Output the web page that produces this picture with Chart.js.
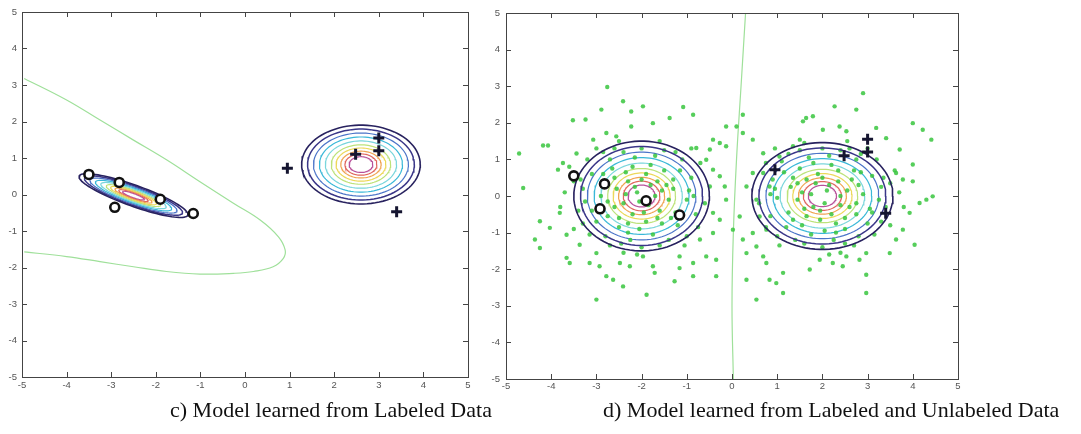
<!DOCTYPE html>
<html>
<head>
<meta charset="utf-8">
<script src="https://cdn.jsdelivr.net/npm/chart.js@4/dist/chart.umd.min.js"></script>
<style>
  body { margin: 0; background: #fff; width: 1081px; height: 434px; overflow: hidden; position: relative; }
  canvas { position: absolute; top: 0; }
  .cap { position: absolute; top: 399px; font-family: 'Liberation Serif', serif; font-size: 22px; line-height: 22px; color: #111; white-space: nowrap; }
</style>
</head>
<body>
<canvas id="chartC" width="480" height="400" style="left:0"></canvas>
<canvas id="chartD" width="601" height="400" style="left:480px"></canvas>
<div class="cap" style="left:170px">c) Model learned from Labeled Data</div>
<div class="cap" style="left:603px">d) Model learned from Labeled and Unlabeled Data</div>
<script>
// labeled points, same in both panels
const circlePoints = [[-3.5, 0.55], [-2.82, 0.33], [-2.92, -0.35], [-1.9, -0.13], [-1.16, -0.52]];
const plusPoints = [[0.95, 0.72], [2.48, 1.1], [3.0, 1.55], [3.0, 1.2], [3.4, -0.47]];

// decision boundaries
const boundaryC = [[-4.95, 3.18], [-4.0, 2.59], [-3.25, 2.04], [-2.5, 1.49], [-1.76, 0.95], [-1.01, 0.35],
    [-0.26, -0.24], [0.34, -0.70], [0.75, -1.16], [0.9, -1.52], [0.86, -1.75], [0.63, -1.98], [0.19, -2.11],
    [-0.26, -2.16], [-1.01, -2.18], [-1.76, -2.11], [-2.5, -1.98], [-3.25, -1.84], [-4.0, -1.70], [-4.95, -1.57]];
const boundaryD = [[0.3, 5], [0.2, 3], [0.1, 1], [0.03, -1], [0.0, -3], [0.03, -5]];

// gaussian contour parameters (mean, semi axes of outer contour, rotation in degrees)
const meansC = [[-2.5, -0.03], [2.6, 0.82]];
const axesC = [[1.33, 0.28], [1.33, 1.08]];
const anglesC = [-24, 0];
const meansD = [[-2.0, 0.0], [2.0, 0.0]];
const axesD = [[1.5, 1.5], [1.56, 1.46]];
const anglesD = [0, 0];
const ringLevels = [1, 0.9, 0.8, 0.7, 0.6, 0.5, 0.42, 0.34, 0.27, 0.2];
const ringColors = ['#28225f', '#3a3688', '#4b74c8', '#3ab8d8', '#7ad6dc', '#bde27a', '#ecd85a', '#f0a452', '#e0665e', '#b8509a'];
const ringWidths = [1.6, 1.5, 1.2, 1.2, 1.2, 1.2, 1.2, 1.2, 1.2, 1.2];

// unlabeled points (panel d)
const unlabeledOuter = [[-2.76, 2.98], [-2.41, 2.59], [-2.89, 2.36], [-3.52, 2.07], [-3.24, 2.09], [-2.23, 2.31],
    [-1.97, 2.45], [-1.08, 2.43], [-0.86, 2.22], [-1.38, 2.13], [-1.75, 1.99], [-2.23, 1.9], [-2.56, 1.63],
    [-2.78, 1.72], [-3.07, 1.54], [-4.18, 1.38], [-4.07, 1.38], [-4.71, 1.16], [-3.44, 1.16], [-3.74, 0.9],
    [-3.85, 0.72], [-4.62, 0.22], [-4.25, -0.69], [-4.03, -0.87], [-4.36, -1.19], [-4.25, -1.42], [-3.66, -1.69],
    [-3.59, -1.83], [-3.37, -1.33], [-3.66, -1.06], [-3.81, -0.46], [-3.0, -1.56], [-3.15, -1.83], [-2.93, -1.92],
    [-2.48, -1.83], [-2.26, -1.92], [-1.97, -1.65], [-1.75, -1.92], [-1.71, -2.1], [-1.27, -2.33], [-1.16, -1.97],
    [-0.86, -1.83], [-0.57, -1.65], [-0.71, -1.19], [-0.42, -1.01], [-0.35, -1.74], [-0.35, -2.19], [-0.86, -2.19],
    [-1.16, -1.65], [-1.89, -2.7], [-3.0, -2.83], [-2.63, -2.29], [-2.41, -2.47], [-2.78, -2.19],
    [-0.42, 1.54], [-0.27, 1.45], [-0.13, 1.36], [-0.49, 1.27], [-0.79, 1.31], [-0.57, 0.99], [-0.42, 0.72],
    [-0.27, 0.54], [-0.49, 0.26], [-0.13, -0.1], [-0.42, -0.46], [-0.27, -0.65], [0.02, -0.92], [0.17, -0.56],
    [0.24, -1.19], [0.32, -1.56], [0.46, -1.01], [0.54, -1.38], [0.32, -2.29], [0.54, -2.83], [0.24, 2.22],
    [0.1, 1.9], [0.24, 1.72], [0.46, 1.54], [0.69, 1.17], [0.32, 0.26], [0.46, 0.63], [-0.13, 1.9], [-0.16, 0.26],
    [1.64, 2.13], [1.79, 2.18], [1.57, 2.04], [2.27, 2.45], [2.75, 2.36], [2.9, 2.81], [2.01, 1.81], [2.38, 1.9],
    [2.53, 1.77], [3.19, 1.86], [3.41, 1.58], [4.0, 1.99], [4.22, 1.81], [4.41, 1.54], [3.71, 1.27], [4.0, 0.86],
    [3.63, 0.63], [3.78, 0.45], [4.0, 0.4], [4.3, -0.1], [4.15, -0.19], [4.44, -0.01], [3.93, -0.46], [3.78, -0.92],
    [4.04, -1.33], [3.63, -1.19], [3.49, -1.56], [2.97, -1.56], [2.97, -2.15], [2.82, -1.74], [2.53, -1.65],
    [2.45, -1.92], [2.23, -1.83], [1.94, -1.74], [1.72, -2.01], [1.13, -2.1], [0.98, -2.38], [1.13, -2.65],
    [0.83, -2.29], [0.69, -1.65], [0.76, -1.83], [2.97, -2.65], [0.76, -0.92], [0.61, -0.56], [0.54, -0.1],
    [0.83, 0.26], [0.69, 0.63], [1.05, 1.08], [1.35, 1.36], [1.5, 1.54]];
const unlabeledLeft = [[-2.1, 0.1], [-1.8, 0.3], [-2.4, -0.2], [-1.6, -0.4], [-2.6, 0.5], [-1.3, 0.2], [-2.9, 0.0],
    [-2.2, 0.8], [-1.9, -0.7], [-2.5, -0.6], [-1.5, 0.7], [-3.1, 0.6], [-3.0, -0.7], [-1.0, -0.1], [-2.7, 1.0],
    [-1.7, 1.1], [-2.3, -1.0], [-1.2, -0.8], [-3.3, 0.2], [-0.9, 0.5], [-2.0, 1.3], [-2.8, -1.1], [-1.4, -1.2],
    [-3.4, -0.4], [-0.8, -0.5], [-2.4, 1.2], [-1.1, 1.0], [-3.2, 1.0], [-2.0, -1.4], [-1.7, 0.0], [-2.3, 0.4],
    [-2.6, -0.3], [-1.9, 0.6], [-2.2, -0.5], [-1.4, -0.1], [-2.8, 0.3], [-3.6, 0.8], [-0.7, 0.9], [-3.5, -0.9],
    [-1.0, -1.1], [-2.5, 1.5], [-1.6, 1.5], [-3.0, 1.3], [-0.9, 1.3], [-2.1, -1.6], [-3.7, 0.1], [-0.6, -0.2],
    [-1.3, 0.45], [-2.65, 0.75], [-1.85, -0.25], [-2.05, -0.9], [-1.55, -0.75], [-2.35, 0.05], [-1.65, 0.4],
    [-2.9, -0.35], [-2.45, -1.3], [-1.25, -0.45], [-3.25, -0.15], [-2.75, -0.55], [-1.75, -1.05],
    [-2.15, 0.25], [-1.95, -0.45], [-2.55, 0.2], [-1.45, 0.3], [-2.75, -0.15], [-1.65, -0.6], [-2.35, 0.65],
    [-2.0, 0.45], [-1.8, 0.85], [-2.5, -0.85], [-3.1, -0.4], [-1.15, 0.7], [-1.35, -0.6], [-2.85, 0.6],
    [-3.35, 0.45], [-0.95, 0.15], [-2.25, -1.2], [-1.6, -1.35], [-2.7, -1.35], [-3.3, -0.75], [-1.25, 1.2],
    [-2.15, 1.05], [-2.85, 1.2], [-3.5, 0.4], [-0.75, -0.85], [-1.05, -1.35], [-2.4, -1.55], [-3.15, -1.05],
    [-3.8, -0.3], [-1.5, 1.25], [-2.6, 1.3], [-0.85, 0.0], [-2.05, -0.15], [-1.55, 0.15], [-2.3, -0.75]];
const unlabeledRight = [[2.1, 0.15], [1.85, 0.35], [2.4, -0.25], [1.6, -0.35], [2.65, 0.45], [1.3, 0.25],
    [2.9, 0.05], [2.2, 0.85], [1.95, -0.65], [2.5, -0.6], [1.5, 0.75], [3.1, 0.55], [3.0, -0.75], [1.0, -0.05],
    [2.75, 1.0], [1.7, 1.05], [2.3, -1.0], [1.2, -0.85], [3.3, 0.25], [0.9, 0.45], [2.0, 1.3], [2.8, -1.1],
    [1.4, -1.2], [3.4, -0.3], [0.85, -0.55], [2.4, 1.25], [1.1, 0.95], [3.2, 1.0], [2.0, -1.4], [1.75, 0.05],
    [2.35, 0.4], [2.6, -0.3], [1.9, 0.6], [2.2, -0.5], [1.45, -0.1], [2.8, 0.3], [3.6, 0.7], [0.75, 0.9],
    [3.5, -0.8], [1.0, -1.1], [2.55, 1.5], [1.6, 1.45], [3.0, 1.3], [0.95, 1.3], [2.15, -1.6], [3.7, 0.1],
    [0.6, -0.2], [1.35, 0.5], [2.7, 0.7], [1.8, -0.3], [2.05, -0.95], [1.55, -0.8], [2.4, 0.0], [1.65, 0.45],
    [3.05, -0.35], [2.5, -1.3], [1.25, -0.45], [3.25, -0.1], [2.75, -0.5], [1.75, -1.05],
    [2.15, 0.3], [1.95, -0.4], [2.55, 0.15], [1.45, 0.35], [2.75, -0.2], [1.65, -0.55], [2.35, 0.7],
    [2.0, 0.5], [1.8, 0.9], [2.5, -0.9], [3.1, -0.45], [1.15, 0.65], [1.35, -0.65], [2.85, 0.65], [3.35, 0.5],
    [0.95, 0.2], [2.25, -1.2], [1.6, -1.3], [2.7, -1.35], [3.3, -0.7], [1.25, 1.15], [2.15, 1.1], [2.85, 1.15],
    [3.5, 0.35], [0.75, -0.85], [1.05, -1.35], [2.4, -1.55], [3.15, -1.05], [3.8, -0.3], [1.5, 1.25], [2.6, 1.3],
    [0.85, 0.05], [2.05, -0.2], [1.55, 0.1], [2.3, -0.75]];

const axisTicks = [-5, -4, -3, -2, -1, 0, 1, 2, 3, 4, 5];

function ring(center, axes, angle, level) {
    const pts = [];
    const t = angle * Math.PI / 180;
    for (let i = 0; i <= 90; i++) {
        const a = i / 90 * 2 * Math.PI;
        const u = axes[0] * level * Math.cos(a);
        const v = axes[1] * level * Math.sin(a);
        pts.push({ x: center[0] + u * Math.cos(t) - v * Math.sin(t), y: center[1] + u * Math.sin(t) + v * Math.cos(t) });
    }
    return pts;
}

const toXY = list => list.map(p => ({ x: p[0], y: p[1] }));

function contourSets(means, axes, angles) {
    const sets = [];
    for (let g = 0; g < means.length; g++) {
        ringLevels.forEach((lv, i) => {
            sets.push({
                data: ring(means[g], axes[g], angles[g], lv),
                showLine: true, pointRadius: 0, borderColor: ringColors[i],
                borderWidth: ringWidths[i], order: i < 2 ? 1 : 3,
            });
        });
    }
    return sets;
}

function markerSets() {
    return [{
        data: toXY(circlePoints), pointStyle: 'circle', pointRadius: 4.5, borderWidth: 2.6,
        borderColor: '#111', backgroundColor: '#fff', order: 0,
    }, {
        data: toXY(plusPoints), pointStyle: 'cross', pointRadius: 5.5, borderWidth: 3,
        borderColor: '#151530', order: 0,
    }];
}

// MATLAB style box with inward ticks
const framePlugin = {
    id: 'frame',
    afterDraw(chart) {
        const { ctx, chartArea: a, scales: { x, y } } = chart;
        ctx.save();
        ctx.strokeStyle = '#444';
        ctx.lineWidth = 1;
        ctx.strokeRect(a.left + 0.5, a.top + 0.5, a.right - a.left, a.bottom - a.top);
        ctx.beginPath();
        axisTicks.forEach(v => {
            const px = Math.round(x.getPixelForValue(v)) + 0.5;
            ctx.moveTo(px, a.bottom); ctx.lineTo(px, a.bottom - 5);
            ctx.moveTo(px, a.top); ctx.lineTo(px, a.top + 5);
            const py = Math.round(y.getPixelForValue(v)) + 0.5;
            ctx.moveTo(a.left, py); ctx.lineTo(a.left + 5, py);
            ctx.moveTo(a.right, py); ctx.lineTo(a.right - 5, py);
        });
        ctx.stroke();
        ctx.restore();
    }
};

function makeOptions(yWidth, xHeight, padding, yPad, xPad) {
    const tickFont = { family: 'Liberation Sans', size: 9.5 };
    return {
        responsive: false,
        animation: false,
        layout: { padding: padding },
        plugins: { legend: { display: false }, tooltip: { enabled: false } },
        scales: {
            x: {
                type: 'linear', min: -5, max: 5,
                grid: { display: false, drawTicks: false },
                border: { display: false },
                ticks: { stepSize: 1, font: tickFont, color: '#555', padding: xPad, maxRotation: 0 },
                afterFit: s => { s.height = xHeight; },
            },
            y: {
                type: 'linear', min: -5, max: 5,
                grid: { display: false, drawTicks: false },
                border: { display: false },
                ticks: { stepSize: 1, font: tickFont, color: '#555', padding: yPad },
                afterFit: s => { s.width = yWidth; },
            },
        },
    };
}

new Chart(document.getElementById('chartC'), {
    type: 'scatter',
    data: {
        datasets: [
            ...markerSets(),
            ...contourSets(meansC, axesC, anglesC),
            { data: toXY(boundaryC), showLine: true, tension: 0.4, pointRadius: 0, borderColor: '#9fe09a', borderWidth: 1.2, order: 4 },
        ],
    },
    options: makeOptions(22, 23, { top: 12, right: 12, left: 0, bottom: 0 }, 5, 3),
    plugins: [framePlugin],
});

new Chart(document.getElementById('chartD'), {
    type: 'scatter',
    data: {
        datasets: [
            ...markerSets(),
            ...contourSets(meansD, axesD, anglesD),
            {
                data: toXY(unlabeledOuter.concat(unlabeledLeft, unlabeledRight)), pointStyle: 'circle',
                pointRadius: 2.2, borderWidth: 0, backgroundColor: 'rgba(56,198,62,0.85)', order: 2,
            },
            { data: toXY(boundaryD), showLine: true, tension: 0.4, pointRadius: 0, borderColor: '#9fe09a', borderWidth: 1.2, order: 4 },
        ],
    },
    options: makeOptions(26, 21, { top: 13, right: 123, left: 0, bottom: 0 }, 6, 2),
    plugins: [framePlugin],
});
</script>
</body>
</html>
